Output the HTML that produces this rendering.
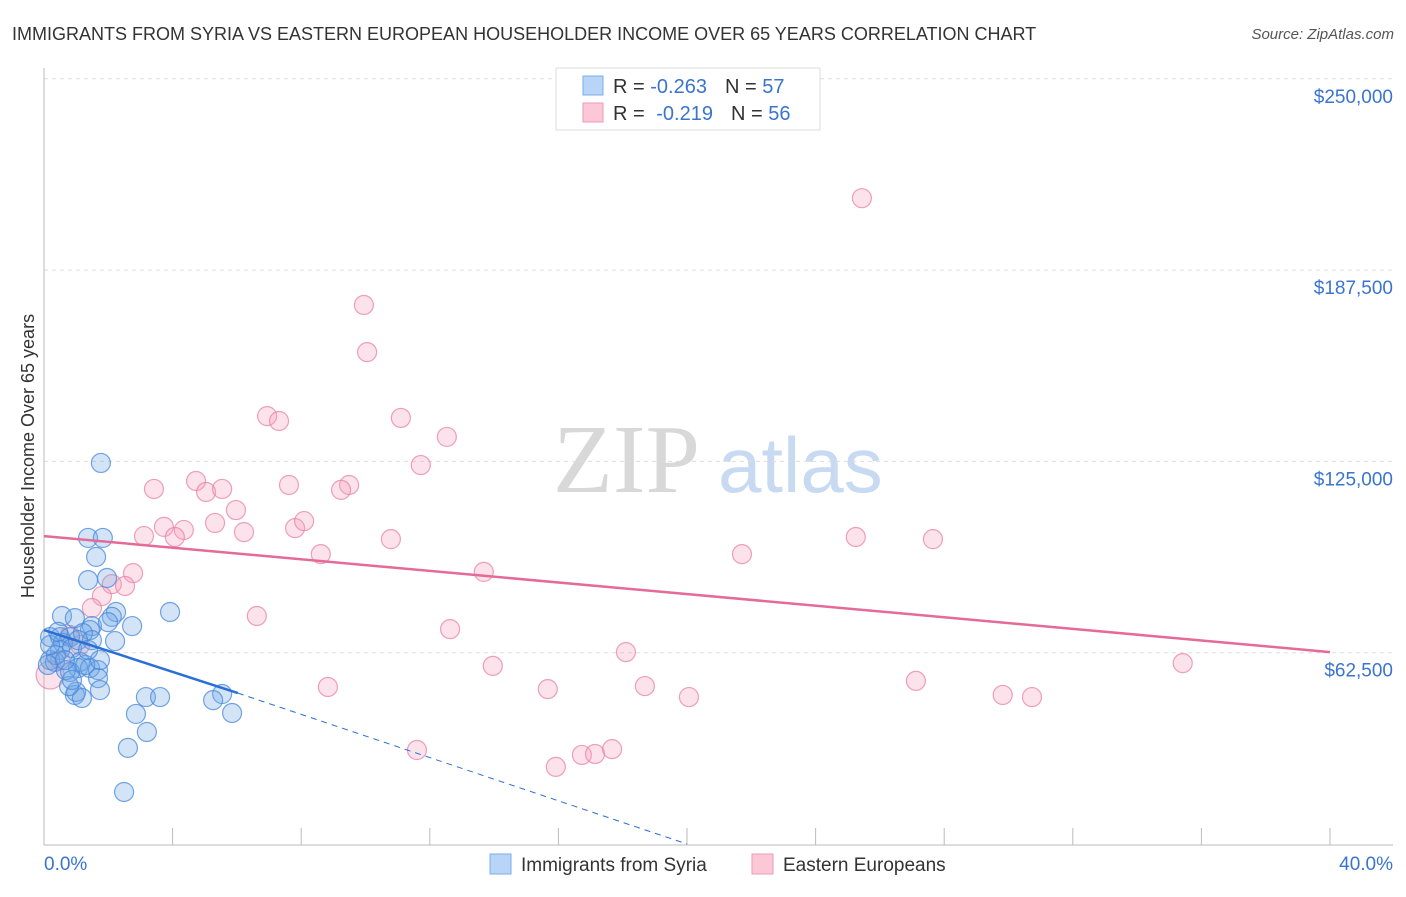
<!DOCTYPE html>
<html><head><meta charset="utf-8"><style>
body{margin:0;background:#fff;font-family:"Liberation Sans",sans-serif}
svg text{font-family:"Liberation Sans",sans-serif}
</style></head><body>
<svg id="chart" width="1406" height="892" xmlns="http://www.w3.org/2000/svg">
<text x="12" y="40" font-size="18" fill="#333">IMMIGRANTS FROM SYRIA VS EASTERN EUROPEAN HOUSEHOLDER INCOME OVER 65 YEARS CORRELATION CHART</text>
<text x="1394" y="39" font-size="15" fill="#555" text-anchor="end" font-style="italic">Source: ZipAtlas.com</text>
<text x="553" y="492" font-size="98" fill="#d8d8d8" style="font-family:'Liberation Serif',serif">ZIP</text>
<text x="718" y="492" font-size="78" fill="#c8daf2">atlas</text>
<text transform="translate(34,456) rotate(-90)" font-size="18" fill="#333" text-anchor="middle">Householder Income Over 65 years</text>
<g id="grid"></g><g id="axes"></g><g id="marks"></g>
<g>
<rect x="556" y="68" width="264" height="62" fill="#fff" stroke="#ddd"/>
<rect x="583" y="76" width="20" height="19" fill="#b8d4f6" stroke="#7aaee8"/>
<rect x="583" y="103" width="20" height="19" fill="#fcc8d8" stroke="#ee9ab4"/>
<text x="613" y="93" font-size="20" fill="#333">R = <tspan fill="#3a74d0">-0.263</tspan><tspan dx="18">N = </tspan><tspan fill="#3a74d0">57</tspan></text>
<text x="613" y="120" font-size="20" fill="#333">R = <tspan fill="#3a74d0" dx="6">-0.219</tspan><tspan dx="18">N = </tspan><tspan fill="#3a74d0">56</tspan></text>
</g>
<g>
<rect x="490" y="854" width="21" height="20" fill="#b8d4f6" stroke="#7aaee8"/>
<text x="521" y="871" font-size="19" fill="#333">Immigrants from Syria</text>
<rect x="752" y="854" width="21" height="20" fill="#fcc8d8" stroke="#ee9ab4"/>
<text x="783" y="871" font-size="19" fill="#333">Eastern Europeans</text>
</g>
</svg>
<script>
const yTicks=[62500,125000,187500,250000];
const yTickLabels=["$62,500","$125,000","$187,500","$250,000"];
const xTicks=[0,4,8,12,16,20,24,28,32,36,40];
const xEndLabels=["0.0%","40.0%"];
const syriaX=[1.77,1.37,1.83,1.62,1.37,1.96,0.56,0.96,2.24,2.11,1.49,2.74,3.92,1.99,1.43,0.19,0.50,0.81,1.21,0.59,2.21,0.50,0.87,0.19,0.34,1.12,1.06,1.43,1.68,0.81,1.68,0.96,1.00,1.18,1.74,0.78,3.17,3.61,2.86,3.20,2.61,2.49,5.54,5.26,5.85,0.37,0.12,1.28,0.68,0.19,0.44,1.74,1.49,1.06,0.65,1.37,0.87];
const syriaY=[124.5,100.0,100.0,93.8,86.2,86.9,74.5,73.8,75.8,74.2,71.2,71.2,75.8,72.5,69.9,67.6,67.6,67.6,68.9,65.7,66.3,63.4,64.0,60.1,59.5,59.5,57.5,57.5,56.8,56.2,54.2,48.7,49.7,47.7,50.3,51.6,48.0,48.0,42.5,36.6,31.4,17.0,49.0,47.0,42.8,61.7,58.5,58.5,56.8,65.0,69.3,60.1,66.6,66.6,60.1,63.4,53.6];
const eastX=[25.44,9.95,10.05,6.94,7.31,11.10,12.53,11.72,3.42,4.73,5.04,5.54,7.62,9.49,9.24,5.97,5.32,3.73,4.35,4.07,3.11,6.22,7.81,8.09,10.79,8.61,25.25,27.65,21.71,2.77,2.11,2.52,1.80,1.49,6.62,13.68,12.63,0.81,18.10,13.96,35.42,8.83,15.67,18.69,20.06,27.12,29.82,30.73,11.60,15.92,16.73,17.14,17.67,0.19,0.50,1.12];
const eastY=[211.0,176.1,160.7,139.8,138.2,139.2,133.0,123.8,116.0,118.6,115.0,116.0,117.3,117.3,115.7,109.1,104.9,103.6,102.6,100.3,100.6,101.9,103.2,105.5,99.6,94.7,100.3,99.6,94.7,88.5,84.9,84.3,81.0,77.1,74.5,88.9,70.2,68.3,62.7,58.2,59.1,51.3,50.6,51.6,48.0,53.3,48.7,48.0,30.7,25.2,29.1,29.4,31.0,55.2,60.1,65.0];
const syriaTrendX=[0,6.03,20];
const syriaTrendY=[69.9,49.3,0];
const eastTrendX=[0,40];
const eastTrendY=[100.6,62.7];
const X=v=>44+v/40*1286;
const Y=v=>844-v/62.5*191.3;
const NS="http://www.w3.org/2000/svg";
function mk(tag,attrs,parent){const e=document.createElementNS(NS,tag);for(const k in attrs)e.setAttribute(k,attrs[k]);parent.appendChild(e);return e;}
const grid=document.getElementById('grid'),axes=document.getElementById('axes'),marks=document.getElementById('marks');
yTicks.forEach((t,i)=>{const y=Y(t/1000);
 const l=mk('line',{x1:44,x2:1393,y1:y,y2:y,stroke:'#ddd','stroke-dasharray':'4,4'},grid);
 
 
 const tx=mk('text',{x:1393,y:y+24,'font-size':19,fill:'#3a74d0','text-anchor':'end'},axes);tx.textContent=yTickLabels[i];
 
 
});
const ax=mk('line',{x1:44,x2:44,y1:68,y2:845,stroke:'#bbb'},axes);


const bx=mk('line',{x1:44,x2:1393,y1:845,y2:845,stroke:'#bbb'},axes);


xTicks.forEach(t=>{const x=X(t);const l=mk('line',{x1:x,x2:x,y1:828,y2:845,stroke:'#bbb'},axes);
 
 });
const xl0=mk('text',{x:44,y:870,'font-size':19,fill:'#3a74d0'},axes);xl0.textContent=xEndLabels[0];


const xl1=mk('text',{x:1393,y:870,'font-size':19,fill:'#3a74d0','text-anchor':'end'},axes);xl1.textContent=xEndLabels[1];


eastX.forEach((v,i)=>{const c=mk('circle',{cx:X(v),cy:Y(eastY[i]),r:i==53?14:9.5,fill:'rgba(244,160,188,0.3)',stroke:'rgba(232,130,165,0.75)','stroke-width':1.2},marks);
 
 });
syriaX.forEach((v,i)=>{const c=mk('circle',{cx:X(v),cy:Y(syriaY[i]),r:9.5,fill:'rgba(110,165,230,0.3)',stroke:'rgba(70,135,220,0.75)','stroke-width':1.2},marks);
 
 });
const pt=mk('line',{x1:X(eastTrendX[0]),y1:Y(eastTrendY[0]),x2:X(eastTrendX[1]),y2:Y(eastTrendY[1]),stroke:'#e56b97','stroke-width':2.5},marks);


const bt=mk('line',{x1:X(syriaTrendX[0]),y1:Y(syriaTrendY[0]),x2:X(syriaTrendX[1]),y2:Y(syriaTrendY[1]),stroke:'#2a6fd6','stroke-width':2.5},marks);


const bd=mk('line',{x1:X(syriaTrendX[1]),y1:Y(syriaTrendY[1]),x2:X(syriaTrendX[2]),y2:Y(syriaTrendY[2]),stroke:'#2a6fd6','stroke-width':1,'stroke-dasharray':'6,5'},marks);


</script>
</body></html>
